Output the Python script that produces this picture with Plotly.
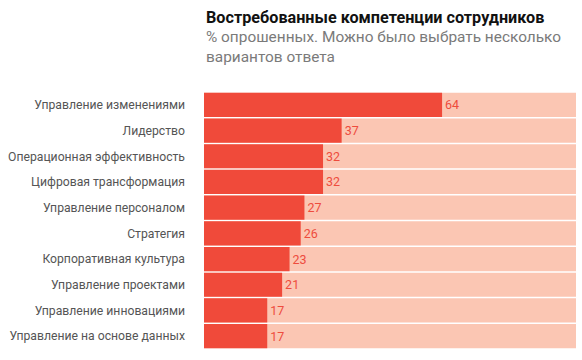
import plotly.graph_objects as go

categories = [
    "Управление изменениями",
    "Лидерство",
    "Операционная эффективность",
    "Цифровая трансформация",
    "Управление персоналом",
    "Стратегия",
    "Корпоративная культура",
    "Управление проектами",
    "Управление инновациями",
    "Управление на основе данных",
]
values = [64, 37, 32, 32, 27, 26, 23, 21, 17, 17]
full = [100] * len(categories)

title = "Востребованные компетенции сотрудников"
subtitle = "% опрошенных. Можно было выбрать несколько<br>вариантов ответа"

fig = go.Figure()
fig.add_trace(go.Bar(
    y=categories, x=full, orientation="h",
    marker=dict(color="#FBC6B3", line=dict(width=0)),
    hoverinfo="skip", showlegend=False,
))
fig.add_trace(go.Bar(
    y=categories, x=values, orientation="h",
    marker=dict(color="#F04A3A", line=dict(width=0)),
    text=[str(v) for v in values], textposition="outside",
    textfont=dict(family="Roboto", size=12.5, color="#EE4C3D"),
    cliponaxis=False, showlegend=False,
))

fig.update_layout(
    width=582, height=360,
    barmode="overlay", bargap=0.06,
    margin=dict(l=204, r=6, t=92, b=11, autoexpand=False),
    paper_bgcolor="white", plot_bgcolor="white",
    xaxis=dict(range=[0, 100], visible=False, fixedrange=True, automargin=False),
    yaxis=dict(autorange="reversed", showgrid=False, showline=False,
               ticks="", ticklabelstandoff=18, automargin=False,
               tickfont=dict(family="Roboto", size=12.2, color="#555555")),
    annotations=[
        dict(text="<b>" + title + "</b>", xref="paper", yref="paper",
             x=0, y=1, xanchor="left", yanchor="middle", yshift=75,
             showarrow=False,
             font=dict(family="Roboto", size=16.2, color="#111111")),
        dict(text=subtitle, xref="paper", yref="paper",
             x=0, y=1, xanchor="left", yanchor="middle", yshift=45,
             showarrow=False, align="left",
             font=dict(family="Roboto", size=15.4, color="#7a7a7a")),
    ],
)

fig.write_html("out.html", config={"displayModeBar": False},
               post_script="document.body.style.margin='0';")
